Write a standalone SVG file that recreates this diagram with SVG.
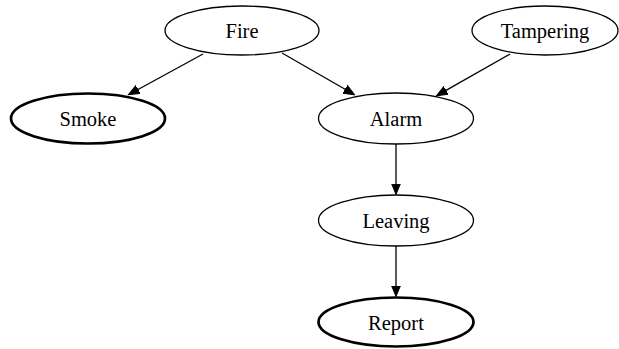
<svg xmlns="http://www.w3.org/2000/svg" width="619" height="349" viewBox="0 0 619 349">
<style>
.n{fill:#fff;stroke:#000;stroke-width:1.3}
.b{stroke-width:2.7}
.t{font-family:"Liberation Serif","Times New Roman",serif;font-size:20.5px;text-anchor:middle;fill:#000}
.e{stroke:#000;stroke-width:1.3;fill:none}
</style>
<defs>
<marker id="arr" viewBox="0 -5 12 10" markerWidth="12" markerHeight="10" refX="0.5" refY="0" orient="auto" markerUnits="userSpaceOnUse">
<path d="M0,-4.5 L11,0 L0,4.5 z" fill="#000" stroke="#000" stroke-width="1"/>
</marker>
</defs>
<rect width="619" height="349" fill="#fff"/>
<g id="edges">
<line class="e" x1="203" y1="54" x2="137.6" y2="89.7" marker-end="url(#arr)"/>
<line class="e" x1="282" y1="53" x2="345.5" y2="89.5" marker-end="url(#arr)"/>
<line class="e" x1="510" y1="54" x2="445.6" y2="90.6" marker-end="url(#arr)"/>
<line class="e" x1="396" y1="144" x2="396" y2="184" marker-end="url(#arr)"/>
<line class="e" x1="396" y1="246" x2="396" y2="286" marker-end="url(#arr)"/>
</g>
<g id="fire"><ellipse class="n" cx="242" cy="30.5" rx="77" ry="24.5"/><text class="t" x="242" y="38">Fire</text></g>
<g id="tampering"><ellipse class="n" cx="545" cy="30.5" rx="73" ry="24.5"/><text class="t" x="545" y="38">Tampering</text></g>
<g id="smoke"><ellipse class="n b" cx="88" cy="118.5" rx="77" ry="25"/><text class="t" x="88" y="126">Smoke</text></g>
<g id="alarm"><ellipse class="n" cx="396" cy="118.5" rx="77.5" ry="25.5"/><text class="t" x="396" y="126">Alarm</text></g>
<g id="leaving"><ellipse class="n" cx="396" cy="220.5" rx="77.5" ry="25.5"/><text class="t" x="396" y="228">Leaving</text></g>
<g id="report"><ellipse class="n b" cx="396" cy="322" rx="77.5" ry="24.5"/><text class="t" x="396" y="329.5">Report</text></g>
</svg>
